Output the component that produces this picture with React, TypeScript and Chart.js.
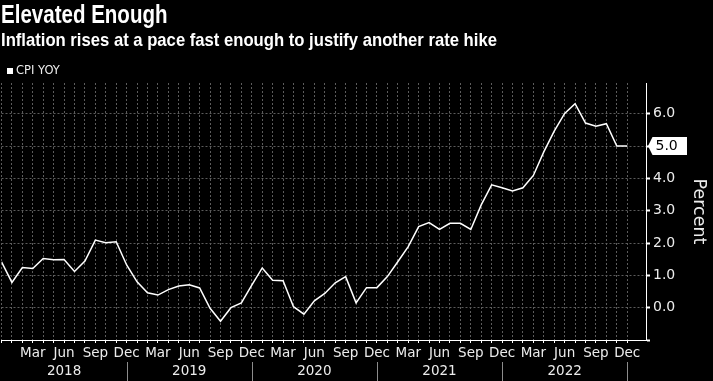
import React, { useEffect, useRef } from 'react';
import { Chart, registerables } from 'chart.js';

Chart.register(...registerables);

const TITLE = 'Elevated Enough';
const SUBTITLE = 'Inflation rises at a pace fast enough to justify another rate hike';
const SERIES_NAME = 'CPI YOY';
const AXIS_TITLE = 'Percent';

// Monthly observations from Dec 2017 to Dec 2022 (index 0 = Dec 2017)
const START_YEAR = 2017;
const START_MONTH = 11; // December, 0-based
const MONTH_NAMES = ['Jan', 'Feb', 'Mar', 'Apr', 'May', 'Jun', 'Jul', 'Aug', 'Sep', 'Oct', 'Nov', 'Dec'];

const cpiYoY = [
  1.42, 0.78, 1.24, 1.21, 1.52, 1.48, 1.49, 1.12, 1.44, 2.09, 2.01, 2.04,
  1.32, 0.80, 0.46, 0.39, 0.56, 0.67, 0.71, 0.61, -0.02, -0.42, 0.0, 0.15,
  0.70, 1.23, 0.85, 0.83, 0.03, -0.20, 0.21, 0.44, 0.77, 0.96, 0.15, 0.62,
  0.62, 0.96, 1.42, 1.89, 2.51, 2.63, 2.42, 2.61, 2.61, 2.42, 3.18, 3.80,
  3.71, 3.61, 3.71, 4.09, 4.82, 5.46, 6.01, 6.31, 5.71, 5.61, 5.69, 5.00,
  5.00,
];

const Y_MIN = -1;
const Y_MAX = 6.95;
const X_MAX = 61.8;
const yTickValues = [-1, -0.5, 0, 0.5, 1, 1.5, 2, 2.5, 3, 3.5, 4, 4.5, 5, 5.5, 6, 6.5];
const yLabelValues = [0, 1, 2, 3, 4, 5, 6];

const GRID_COLOR = '#5c5c5c';
const TEXT_COLOR = '#ececec';
const FONT = 'DejaVu Sans';

const overlayPlugin = {
  id: 'overlay',
  afterDraw(chart: any) {
    const { ctx } = chart;
    const xs = chart.scales.x;
    const ys = chart.scales.y;
    ctx.save();
    // year separators at each December
    ctx.strokeStyle = '#8c8c8c';
    ctx.lineWidth = 1;
    for (let i = 12; i < cpiYoY.length; i += 12) {
      const px = Math.round(xs.getPixelForValue(i)) + 0.5;
      ctx.beginPath();
      ctx.moveTo(px, xs.bottom - 19);
      ctx.lineTo(px, xs.bottom);
      ctx.stroke();
    }
    // last value tag
    const last = cpiYoY[cpiYoY.length - 1];
    const py = ys.getPixelForValue(last);
    const tip = ys.left + 2;
    ctx.fillStyle = '#ffffff';
    ctx.beginPath();
    ctx.moveTo(tip, py);
    ctx.lineTo(tip + 4.5, py - 9);
    ctx.lineTo(tip + 39, py - 9);
    ctx.lineTo(tip + 39, py + 9);
    ctx.lineTo(tip + 4.5, py + 9);
    ctx.closePath();
    ctx.fill();
    ctx.fillStyle = '#000000';
    ctx.font = `14px "${FONT}"`;
    ctx.textAlign = 'left';
    ctx.textBaseline = 'middle';
    ctx.fillText(last.toFixed(1), tip + 7.5, py + 0.5);
    ctx.restore();
  },
};

export default function App() {
  const canvasRef = useRef<HTMLCanvasElement | null>(null);

  useEffect(() => {
    const canvas = canvasRef.current;
    if (!canvas) return;
    const chart = new Chart(canvas, {
      type: 'line',
      data: {
        datasets: [
          {
            label: SERIES_NAME,
            data: cpiYoY.map((v, i) => ({ x: i, y: v })),
            borderColor: '#ffffff',
            borderWidth: 1.5,
            pointRadius: 0,
            tension: 0,
            fill: false,
          },
        ],
      },
      options: {
        responsive: false,
        animation: false,
        devicePixelRatio: 1,
        layout: { padding: { top: 83, left: 0, right: 0, bottom: 0 } },
        plugins: {
          legend: { display: false },
          tooltip: { enabled: false },
          title: { display: false },
        },
        scales: {
          x: {
            type: 'linear',
            position: 'bottom',
            min: 0,
            max: X_MAX,
            afterBuildTicks: (s: any) => {
              s.ticks = cpiYoY.map((_, i) => ({ value: i }));
            },
            afterFit: (s: any) => {
              s.height = 41;
            },
            grid: {
              color: (c: any) => (c.tick && c.tick.value <= cpiYoY.length - 1 ? GRID_COLOR : 'transparent'),
              lineWidth: 1,
              drawTicks: true,
              tickLength: 3,
              tickColor: '#ffffff',
              tickWidth: 1,
            },
            border: { display: true, color: '#ffffff', width: 1, dash: [2, 2] },
            ticks: {
              autoSkip: false,
              maxRotation: 0,
              minRotation: 0,
              padding: 1.5,
              color: TEXT_COLOR,
              font: { family: FONT, size: 13.5, lineHeight: 1.33 },
              callback: (value: any) => {
                const i = Number(value);
                if (i <= 0 || i % 3 !== 0) return '';
                const m = (START_MONTH + i) % 12;
                const name = MONTH_NAMES[m];
                if (m === 5) return [name, String(START_YEAR + Math.floor((START_MONTH + i) / 12))];
                return name;
              },
            },
          },
          y: {
            type: 'linear',
            position: 'right',
            min: Y_MIN,
            max: Y_MAX,
            afterBuildTicks: (s: any) => {
              s.ticks = yTickValues.map((v) => ({ value: v }));
            },
            afterFit: (s: any) => {
              s.width = 67;
            },
            grid: {
              color: (c: any) =>
                c.tick && Number.isInteger(c.tick.value) && c.tick.value >= 0 ? GRID_COLOR : 'transparent',
              lineWidth: 1,
              drawTicks: true,
              tickLength: 4,
              tickColor: '#ffffff',
              tickWidth: (c: any) => (c.tick && Number.isInteger(c.tick.value) ? 2 : 1),
            },
            border: { display: true, color: '#ffffff', width: 1, dash: [2, 2] },
            ticks: {
              padding: 3,
              color: TEXT_COLOR,
              font: { family: FONT, size: 14 },
              callback: (value: any) => (yLabelValues.includes(Number(value)) ? Number(value).toFixed(1) : ''),
            },
            title: {
              display: true,
              text: AXIS_TITLE,
              color: TEXT_COLOR,
              font: { family: FONT, size: 17.5 },
              padding: { top: 3.5, bottom: 0 },
            },
          },
        },
      },
      plugins: [overlayPlugin],
    } as any);
    return () => chart.destroy();
  }, []);

  return (
    <div
      style={{
        position: 'fixed',
        left: 0,
        top: 0,
        width: 713,
        height: 381,
        background: '#000',
        overflow: 'hidden',
      }}
    >
      <canvas ref={canvasRef} width={713} height={381} style={{ position: 'absolute', left: 0, top: 0, width: 713, height: 381 }} />
      <div
        style={{
          position: 'absolute',
          left: 1,
          top: 1.8,
          font: 'bold 25.5px "Liberation Sans", sans-serif',
          lineHeight: '25.5px',
          color: '#fff',
          whiteSpace: 'nowrap',
          transform: 'scaleX(0.805)',
          transformOrigin: 'left top',
        }}
      >
        {TITLE}
      </div>
      <div
        style={{
          position: 'absolute',
          left: 1,
          top: 31,
          font: 'bold 18.5px "Liberation Sans", sans-serif',
          lineHeight: '18.5px',
          color: '#fff',
          whiteSpace: 'nowrap',
          transform: 'scaleX(0.9)',
          transformOrigin: 'left top',
        }}
      >
        {SUBTITLE}
      </div>
      <div
        style={{
          position: 'absolute',
          left: 7,
          top: 65.3,
          font: `11.5px "${FONT}", sans-serif`,
          lineHeight: '11.5px',
          color: TEXT_COLOR,
          whiteSpace: 'nowrap',
          display: 'flex',
          alignItems: 'center',
        }}
      >
        <span style={{ display: 'inline-block', width: 6, height: 6, background: '#fff', marginRight: 3 }} />
        <span>{SERIES_NAME}</span>
      </div>
    </div>
  );
}
